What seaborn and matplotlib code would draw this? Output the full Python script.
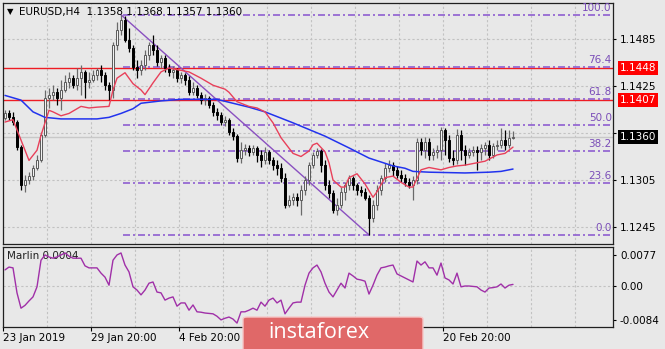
import numpy as np
import pandas as pd
import matplotlib
matplotlib.use("Agg")
import matplotlib.pyplot as plt
import matplotlib.transforms as mtransforms
from matplotlib.patches import FancyBboxPatch
import seaborn as sns

# ---------------- data ----------------
open_ = [1.1384, 1.1390, 1.1385, 1.1379, 1.1347, 1.1299, 1.1305, 1.1310, 1.1320, 1.1330,
         1.1362, 1.1410, 1.1414, 1.1417, 1.1410, 1.1420, 1.1430, 1.1435, 1.1426, 1.1435,
         1.1443, 1.1430, 1.1433, 1.1439, 1.1445, 1.1439, 1.1426, 1.1420, 1.1477, 1.1497,
         1.1509, 1.1484, 1.1474, 1.1449, 1.1445, 1.1452, 1.1465, 1.1477, 1.1471, 1.1456,
         1.1461, 1.1448, 1.1443, 1.1445, 1.1435, 1.1439, 1.1433, 1.1417, 1.1422, 1.1414,
         1.1407, 1.1410, 1.1401, 1.1392, 1.1388, 1.1379, 1.1382, 1.1366, 1.1361, 1.1333,
         1.1343, 1.1346, 1.1341, 1.1346, 1.1337, 1.1330, 1.1341, 1.1330, 1.1324, 1.1320,
         1.1308, 1.1273, 1.1279, 1.1283, 1.1279, 1.1292, 1.1305, 1.1324, 1.1337, 1.1342,
         1.1324, 1.1299, 1.1288, 1.1267, 1.1273, 1.1290, 1.1299, 1.1308, 1.1299, 1.1292,
         1.1290, 1.1282, 1.1256, 1.1273, 1.1292, 1.1308, 1.1320, 1.1324, 1.1318, 1.1311,
         1.1308, 1.1302, 1.1299, 1.1305, 1.1353, 1.1343, 1.1353, 1.1337, 1.1341, 1.1343,
         1.1369, 1.1356, 1.1333, 1.1330, 1.1362, 1.1343, 1.1337, 1.1341, 1.1343, 1.1341,
         1.1346, 1.1350, 1.1337, 1.1348, 1.1350, 1.1356, 1.1350, 1.1358]
high = [1.1394, 1.1394, 1.1392, 1.1382, 1.1350, 1.1311, 1.1315, 1.1324, 1.1337, 1.1366,
        1.1420, 1.1422, 1.1426, 1.1422, 1.1433, 1.1439, 1.1443, 1.1439, 1.1448, 1.1452,
        1.1445, 1.1443, 1.1445, 1.1448, 1.1452, 1.1443, 1.1430, 1.1481, 1.1507, 1.1516,
        1.1514, 1.1499, 1.1477, 1.1458, 1.1458, 1.1471, 1.1481, 1.1490, 1.1477, 1.1465,
        1.1465, 1.1453, 1.1451, 1.1448, 1.1443, 1.1442, 1.1438, 1.1430, 1.1426, 1.1417,
        1.1415, 1.1412, 1.1405, 1.1397, 1.1392, 1.1387, 1.1384, 1.1371, 1.1364, 1.1353,
        1.1351, 1.1350, 1.1350, 1.1348, 1.1343, 1.1347, 1.1343, 1.1334, 1.1330, 1.1327,
        1.1314, 1.1286, 1.1288, 1.1288, 1.1299, 1.1310, 1.1328, 1.1341, 1.1346, 1.1345,
        1.1330, 1.1305, 1.1292, 1.1282, 1.1296, 1.1302, 1.1311, 1.1310, 1.1301, 1.1297,
        1.1295, 1.1286, 1.1279, 1.1299, 1.1311, 1.1327, 1.1330, 1.1328, 1.1323, 1.1318,
        1.1313, 1.1308, 1.1310, 1.1359, 1.1359, 1.1360, 1.1359, 1.1346, 1.1350, 1.1373,
        1.1371, 1.1362, 1.1343, 1.1370, 1.1369, 1.1350, 1.1346, 1.1348, 1.1348, 1.1351,
        1.1353, 1.1356, 1.1352, 1.1356, 1.1371, 1.1369, 1.1369, 1.1368]
low = [1.1382, 1.1382, 1.1375, 1.1343, 1.1292, 1.1290, 1.1300, 1.1305, 1.1318, 1.1328,
       1.1360, 1.1397, 1.1407, 1.1401, 1.1394, 1.1417, 1.1422, 1.1422, 1.1420, 1.1414,
       1.1410, 1.1422, 1.1430, 1.1433, 1.1430, 1.1420, 1.1407, 1.1410, 1.1471, 1.1490,
       1.1481, 1.1468, 1.1445, 1.1435, 1.1439, 1.1445, 1.1458, 1.1465, 1.1451, 1.1448,
       1.1443, 1.1438, 1.1435, 1.1430, 1.1429, 1.1426, 1.1414, 1.1414, 1.1410, 1.1402,
       1.1401, 1.1397, 1.1387, 1.1382, 1.1375, 1.1374, 1.1362, 1.1356, 1.1328, 1.1327,
       1.1337, 1.1336, 1.1337, 1.1328, 1.1321, 1.1325, 1.1325, 1.1318, 1.1311, 1.1302,
       1.1269, 1.1271, 1.1273, 1.1272, 1.1260, 1.1286, 1.1299, 1.1320, 1.1333, 1.1315,
       1.1292, 1.1282, 1.1263, 1.1260, 1.1269, 1.1279, 1.1292, 1.1292, 1.1286, 1.1284,
       1.1279, 1.1235, 1.1251, 1.1267, 1.1286, 1.1302, 1.1315, 1.1310, 1.1308, 1.1302,
       1.1297, 1.1295, 1.1279, 1.1300, 1.1337, 1.1333, 1.1330, 1.1330, 1.1333, 1.1330,
       1.1337, 1.1328, 1.1324, 1.1325, 1.1330, 1.1324, 1.1333, 1.1336, 1.1318, 1.1330,
       1.1337, 1.1330, 1.1333, 1.1343, 1.1346, 1.1343, 1.1346, 1.1357]
close = [1.1390, 1.1385, 1.1379, 1.1347, 1.1299, 1.1305, 1.1310, 1.1320, 1.1330, 1.1362,
         1.1410, 1.1414, 1.1417, 1.1410, 1.1420, 1.1430, 1.1435, 1.1426, 1.1435, 1.1443,
         1.1430, 1.1433, 1.1439, 1.1445, 1.1439, 1.1426, 1.1420, 1.1477, 1.1497, 1.1509,
         1.1484, 1.1474, 1.1449, 1.1445, 1.1452, 1.1465, 1.1477, 1.1471, 1.1456, 1.1461,
         1.1448, 1.1443, 1.1445, 1.1435, 1.1439, 1.1433, 1.1417, 1.1422, 1.1414, 1.1407,
         1.1410, 1.1401, 1.1392, 1.1388, 1.1379, 1.1382, 1.1366, 1.1361, 1.1333, 1.1343,
         1.1346, 1.1341, 1.1346, 1.1337, 1.1330, 1.1341, 1.1330, 1.1324, 1.1320, 1.1308,
         1.1273, 1.1279, 1.1283, 1.1279, 1.1292, 1.1305, 1.1324, 1.1337, 1.1342, 1.1324,
         1.1299, 1.1288, 1.1267, 1.1273, 1.1290, 1.1299, 1.1308, 1.1299, 1.1292, 1.1290,
         1.1282, 1.1256, 1.1273, 1.1292, 1.1308, 1.1320, 1.1324, 1.1318, 1.1311, 1.1308,
         1.1302, 1.1299, 1.1305, 1.1353, 1.1343, 1.1353, 1.1337, 1.1341, 1.1343, 1.1369,
         1.1356, 1.1333, 1.1330, 1.1362, 1.1343, 1.1337, 1.1341, 1.1343, 1.1341, 1.1346,
         1.1350, 1.1337, 1.1348, 1.1350, 1.1356, 1.1350, 1.1359, 1.1360]

red_ma_bar = [0, 2, 6, 8, 9, 11, 12, 14, 16, 19, 21, 23, 26, 27, 28, 30, 32, 34, 35, 37,
              39, 41, 46, 49, 52, 55, 56, 58, 61, 63, 65, 67, 69, 72, 74, 76, 77, 78, 80, 81,
              82, 84, 85, 86, 88, 90, 92, 93, 95, 97, 99, 101, 102, 104, 106, 107, 109, 111,
              113, 115, 118, 120, 123, 125, 127]
red_ma_val = [1.1379, 1.1382, 1.1330, 1.1343, 1.1362, 1.1394, 1.1392, 1.1387, 1.1390, 1.1399,
              1.1397, 1.1398, 1.1399, 1.1420, 1.1435, 1.1442, 1.1428, 1.1420, 1.1414, 1.1429,
              1.1443, 1.1448, 1.1443, 1.1435, 1.1426, 1.1421, 1.1417, 1.1405, 1.1399, 1.1397,
              1.1392, 1.1378, 1.1359, 1.1339, 1.1335, 1.1342, 1.1350, 1.1352, 1.1341, 1.1327,
              1.1305, 1.1296, 1.1296, 1.1308, 1.1313, 1.1300, 1.1283, 1.1290, 1.1308, 1.1310,
              1.1302, 1.1296, 1.1296, 1.1318, 1.1321, 1.1320, 1.1318, 1.1321, 1.1323, 1.1324,
              1.1327, 1.1329, 1.1337, 1.1339, 1.1347]

blue_ma_bar = [0, 4, 7, 10, 14, 19, 23, 26, 29, 32, 34, 39, 44, 47, 50, 53, 57, 61, 65, 72,
               80, 86, 91, 97, 100, 102, 106, 115, 121, 124, 127]
blue_ma_val = [1.1413, 1.1407, 1.1392, 1.1385, 1.1383, 1.1383, 1.1383, 1.1385, 1.1390, 1.1396,
               1.1403, 1.1406, 1.1408, 1.1408, 1.1408, 1.1408, 1.1403, 1.1398, 1.1392, 1.1378,
               1.1361, 1.1346, 1.1333, 1.1323, 1.1320, 1.1316, 1.1315, 1.1314, 1.1315, 1.1316,
               1.1319]

marlin = [0.0040, 0.0047, 0.0045, -0.0017, -0.0055, -0.0048, -0.0037, -0.0027, -0.0002, 0.0064,
          0.0077, 0.0072, 0.0069, 0.0072, 0.0077, 0.0082, 0.0074, 0.0069, 0.0069, 0.0069,
          0.0050, 0.0045, 0.0045, 0.0045, 0.0032, 0.0022, 0.0002, 0.0064, 0.0077, 0.0082,
          0.0052, 0.0035, -0.0002, -0.0010, -0.0022, -0.0010, 0.0007, 0.0010, -0.0015, -0.0017,
          -0.0035, -0.0030, -0.0027, -0.0050, -0.0042, -0.0042, -0.0060, -0.0047, -0.0064, -0.0065,
          -0.0067, -0.0068, -0.0069, -0.0075, -0.0084, -0.0080, -0.0077, -0.0082, -0.0092, -0.0064,
          -0.0064, -0.0060, -0.0055, -0.0060, -0.0040, -0.0050, -0.0035, -0.0030, -0.0042, -0.0035,
          -0.0069, -0.0055, -0.0042, -0.0040, -0.0040, 0.0002, 0.0032, 0.0045, 0.0052, 0.0035,
          0.0007, -0.0015, -0.0027, -0.0010, 0.0007, -0.0005, 0.0032, 0.0025, 0.0017, 0.0015,
          0.0012, -0.0020, 0.0002, 0.0027, 0.0045, 0.0047, 0.0050, 0.0052, 0.0030, 0.0025,
          0.0020, 0.0015, 0.0010, 0.0062, 0.0052, 0.0060, 0.0045, 0.0045, 0.0027, 0.0057,
          0.0020, 0.0015, 0.0005, 0.0032, -0.0002, 0.0000, 0.0000, -0.0001, -0.0002, -0.0010,
          -0.0015, -0.0005, -0.0004, -0.0002, 0.0005, -0.0005, 0.0002, 0.0004]

fib_levels = [0.0, 23.6, 38.2, 50.0, 61.8, 76.4, 100.0]
fib_low, fib_high = 1.1235, 1.1516
trend_bars = [29, 91]
trend_prices = [1.1516, 1.1235]
red_levels = [1.1448, 1.1407]
last_price = 1.1360
price_ticks = [1.1245, 1.1305, 1.1365, 1.1425, 1.1485]
price_tick_labels = ["1.1245", "1.1305", "", "1.1425", "1.1485"]
osc_ticks = [-0.0084, 0.0, 0.0077]
osc_tick_labels = ["-0.0084", "0.00", "0.0077"]
time_ticks = [-0.5, 21.5, 43.5, 65.5, 87.5, 109.5]
time_labels = ["23 Jan 2019", "29 Jan 20:00", "4 Feb 20:00", "", "", "20 Feb 20:00"]
title_text = "EURUSD,H4  1.1358 1.1368 1.1357 1.1360"
osc_title = "Marlin 0.0004"

# ---------------- style ----------------
BG = "#E8E8E8"
sns.set_theme(style="white", rc={"axes.facecolor": BG, "figure.facecolor": BG})
plt.rcParams["font.family"] = ["DejaVu Sans"]

fig = plt.figure(figsize=(6.65, 3.49), dpi=100)
W, H = 665.0, 349.0
ax = fig.add_axes([3 / W, 1 - 244 / H, 610 / W, 241 / H])
ax2 = fig.add_axes([3 / W, 1 - 327 / H, 610 / W, 80 / H])

XL = (-0.5, 152.0)
grid_x = [10.5 + 11 * k for k in range(13)]
grid_kw = dict(color="#C2C2C2", lw=0.8, ls=(0, (2, 2)), zorder=0)

for a in (ax, ax2):
    a.set_xlim(*XL)
    for gx in grid_x:
        a.axvline(gx, **grid_kw)
    for s in a.spines.values():
        s.set_color("#202020")
        s.set_linewidth(0.9)

# main panel
ax.set_ylim(1.12233, 1.15310)
for p in price_ticks:
    ax.axhline(p, **grid_kw)

# horizontal price line (gray) and red levels
ax.axhline(last_price, color="#C8C8C8", lw=1.0, zorder=1)
for rl in red_levels:
    ax.axhline(rl, color="#EE1C24", lw=1.0, zorder=2)

# fibonacci
fib_prices = [fib_low + lv / 100 * (fib_high - fib_low) for lv in fib_levels]
ax.hlines(fib_prices, 29.5, XL[1], colors="#8E5FD0", lw=1.2,
          linestyles=[(0, (4.2, 1.8, 1.2, 1.8))], zorder=2)
for lv, fp in zip(fib_levels, fib_prices):
    ax.text(XL[1] - 0.3, fp + 0.00025, f"{lv:.1f}", ha="right", va="bottom",
            fontsize=7.5, color="#7A4DB8", zorder=6)

# trend line
sns.lineplot(x=trend_bars, y=trend_prices, ax=ax, color="#8A50C0", lw=1.0, zorder=3,
             legend=False)

# candles
o = np.array(open_); h = np.array(high); l = np.array(low); c = np.array(close)
idx = np.arange(len(c))
up = c >= o
ax.vlines(idx[up], l[up], h[up], color="#6A6A6A", lw=0.9, zorder=3)
ax.vlines(idx[~up], l[~up], h[~up], color="#000000", lw=0.9, zorder=3)
bb = np.minimum(o, c)
bh = np.maximum(np.abs(c - o), 0.00007)
ax.bar(idx[up], bh[up], bottom=bb[up], width=0.74, color="#F2F2F2",
       edgecolor="#5A5A5A", linewidth=0.7, zorder=4)
ax.bar(idx[~up], bh[~up], bottom=bb[~up], width=0.74, color="#000000",
       edgecolor="#000000", linewidth=0.7, zorder=4)

# moving averages
sns.lineplot(x=blue_ma_bar, y=blue_ma_val, ax=ax, color="#2233EE", lw=1.1, zorder=5,
             legend=False)
sns.lineplot(x=red_ma_bar, y=red_ma_val, ax=ax, color="#E8405A", lw=1.0, zorder=5,
             legend=False)

ax.yaxis.tick_right()
ax.set_yticks(price_ticks)
ax.set_yticklabels(price_tick_labels)
ax.set_xticks([])
ax.tick_params(axis="y", which="both", right=True, left=False, direction="out",
               length=2.5, width=0.8, pad=2.5, labelsize=7.5, colors="#000000")
ax.set_xlabel(""); ax.set_ylabel("")

# right-hand price boxes
btr = mtransforms.blended_transform_factory(ax.transAxes, ax.transData)
for rl in red_levels:
    ax.text(1.0 + 7 / 610, rl, f"{rl:.4f}", transform=btr, ha="left", va="center",
            fontsize=7.5, color="white", zorder=10, clip_on=False,
            bbox=dict(boxstyle="square,pad=0.18", fc="#FF0000", ec="none"))
ax.text(1.0 + 7 / 610, last_price, f"{last_price:.4f}", transform=btr, ha="left",
        va="center", fontsize=7.5, color="white", zorder=10, clip_on=False,
        bbox=dict(boxstyle="square,pad=0.18", fc="#000000", ec="none"))

# oscillator panel
ax2.set_ylim(-0.01017, 0.00968)
ax2.axhline(0.0, **grid_kw)
sns.lineplot(x=idx, y=marlin, ax=ax2, color="#A030A8", lw=1.0, legend=False, zorder=4)
ax2.yaxis.tick_right()
ax2.set_yticks(osc_ticks)
ax2.set_yticklabels(osc_tick_labels)
ax2.set_xticks(time_ticks)
ax2.set_xticklabels(time_labels, ha="left")
ax2.tick_params(axis="y", right=True, left=False, direction="out", length=2.5,
                width=0.8, pad=2.5, labelsize=7.5, colors="#000000")
ax2.tick_params(axis="x", bottom=True, direction="out", length=3, width=0.8, pad=1.5,
                labelsize=7.5, colors="#000000")
ax2.set_xlabel(""); ax2.set_ylabel("")
ax2.text(0.007, 0.89, osc_title, transform=ax2.transAxes, ha="left", va="center",
         fontsize=7.5, color="#202020")

# title
fig.text(7 / W, 1 - 12 / H, "\u25BC", fontsize=6, ha="left", va="center", color="#000000")
fig.text(19 / W, 1 - 12 / H, title_text, fontsize=7.5, ha="left", va="center",
         color="#000000")

# watermark
wm = FancyBboxPatch((243 / W, -0.02), 180 / W, (349 - 317) / H + 0.02,
                    boxstyle="round,pad=0,rounding_size=0.006", transform=fig.transFigure,
                    fc="#E06868", ec="#F6C8C8", lw=1.0, zorder=20)
fig.patches.append(wm)
fig.text(319 / W, 1 - 332 / H, "instaforex", fontsize=15.5, family=["Open Sans", "DejaVu Sans"],
         color="white", ha="center", va="center", zorder=21)

fig.savefig("out.png", dpi=100, facecolor=BG)
